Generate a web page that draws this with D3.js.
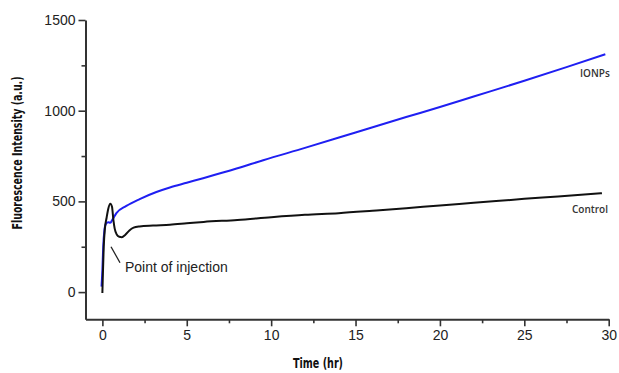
<!DOCTYPE html>
<html>
<head>
<meta charset="utf-8">
<script src="https://cdn.jsdelivr.net/npm/d3@7"></script>
<style>
  body { margin: 0; background: #fff; }
  svg { display: block; }
</style>
</head>
<body>
<div class="container"></div>
<script>
// readings
const ionpsTime = [-0.05, 0.0, 0.05, 0.12, 0.2, 0.35, 0.47, 0.6, 0.83, 1.42, 2.21, 3.2, 4.0, 5.0, 5.97, 7.95, 9.53, 12, 15, 18, 20, 22, 25, 27.5, 29.8]
const ionpsValue = [30, 120, 250, 340, 375, 385, 382, 400, 435, 475, 513, 552, 577, 603, 628, 681, 727, 795, 880, 965, 1020, 1078, 1165, 1240, 1311]

const controlTime = [0.0, 0.03, 0.08, 0.15, 0.25, 0.35, 0.47, 0.57, 0.65, 0.73, 0.85, 1.0, 1.15, 1.35, 1.6, 1.85, 2.2, 3, 4, 5, 6, 8, 10, 12, 14, 16, 18, 20, 22, 25, 27, 29.6]
const controlValue = [-5, 100, 250, 350, 410, 460, 487, 470, 400, 350, 318, 305, 303, 315, 340, 355, 362, 367, 371, 379, 387, 398, 413, 426, 435, 448, 462, 478, 492, 514, 527, 545]

const xTicks = [0, 5, 10, 15, 20, 25, 30]
const xMinor = [2.5, 7.5, 12.5, 17.5, 22.5, 27.5]
const yTicks = [0, 500, 1000, 1500]
const yMinor = [250, 750, 1250]

const width = 619, height = 373

const svg = d3.select(".container")
              .append("svg")
              .attr("width", width)
              .attr("height", height)

const x = d3.scaleLinear().domain([-1, 30]).range([85.5, 608.7])
const y = d3.scaleLinear().domain([-150, 1500]).range([319.3, 20])

const axisColor = "#333"
const tickFont = "'Liberation Sans', Arial, sans-serif"

// minor ticks first, so the major axis draws over them
svg.append("g")
   .attr("transform", "translate(0,319.3)")
   .call(d3.axisBottom(x).tickValues(xMinor).tickSize(4).tickFormat(""))
   .call(g => g.select(".domain").remove())
svg.append("g")
   .attr("transform", "translate(85.5,0)")
   .call(d3.axisLeft(y).tickValues(yMinor).tickSize(4).tickFormat(""))
   .call(g => g.select(".domain").remove())

svg.append("g")
   .attr("transform", "translate(0,319.3)")
   .call(d3.axisBottom(x).tickValues(xTicks).tickFormat(d3.format("d")).tickSize(7).tickSizeOuter(0).tickPadding(4))
svg.append("g")
   .attr("transform", "translate(85.5,0)")
   .call(d3.axisLeft(y).tickValues(yTicks).tickFormat(d3.format("d")).tickSize(7).tickSizeOuter(0).tickPadding(3))

svg.selectAll(".tick line").attr("stroke", axisColor).attr("stroke-width", 1.6)
svg.selectAll(".domain").attr("stroke", axisColor).attr("stroke-width", 2)
svg.selectAll(".tick text")
   .attr("fill", "#222")
   .style("font-family", tickFont)
   .style("font-size", "14px")

// lines
const line = d3.line()
               .x(d => x(d[0]))
               .y(d => y(d[1]))
               .curve(d3.curveMonotoneX)

svg.append("path")
   .datum(ionpsTime.map((t, i) => [t, ionpsValue[i]]))
   .attr("fill", "none")
   .attr("stroke", "#1f1ff2")
   .attr("stroke-width", 2)
   .attr("d", line)

svg.append("path")
   .datum(controlTime.map((t, i) => [t, controlValue[i]]))
   .attr("fill", "none")
   .attr("stroke", "#111")
   .attr("stroke-width", 2)
   .attr("d", line)

// series labels
svg.append("text")
   .text("IONPs")
   .attr("x", 580).attr("y", 77)
   .style("font-family", "'Open Sans', sans-serif")
   .style("font-weight", 600)
   .style("font-size", "10px")
   .attr("fill", "#333")

svg.append("text")
   .text("Control")
   .attr("x", 572).attr("y", 213)
   .style("font-family", "'Open Sans', sans-serif")
   .style("font-weight", 600)
   .style("font-size", "10px")
   .attr("fill", "#333")

// annotation
svg.append("line")
   .attr("x1", 111).attr("y1", 246.7)
   .attr("x2", 120).attr("y2", 262.7)
   .attr("stroke", "#222")
   .attr("stroke-width", 1.3)

svg.append("text")
   .text("Point of injection")
   .attr("x", 125).attr("y", 272)
   .style("font-family", tickFont)
   .style("font-size", "14px")
   .attr("fill", "#222")

// axis titles
svg.append("text")
   .text("Time (hr)")
   .attr("x", 318).attr("y", 368)
   .attr("text-anchor", "middle")
   .attr("textLength", 50)
   .attr("lengthAdjust", "spacingAndGlyphs")
   .style("font-family", "'Liberation Sans Narrow', 'DejaVu Sans Condensed', sans-serif")
   .style("font-weight", "bold")
   .style("font-size", "14px")
   .attr("fill", "#111")

svg.append("text")
   .text("Fluorescence Intensity (a.u.)")
   .attr("transform", "translate(22,153) rotate(-90)")
   .attr("text-anchor", "middle")
   .attr("textLength", 153)
   .attr("lengthAdjust", "spacingAndGlyphs")
   .style("font-family", "'Liberation Sans Narrow', 'DejaVu Sans Condensed', sans-serif")
   .style("font-weight", "bold")
   .style("font-size", "14px")
   .attr("fill", "#111")
</script>
</body>
</html>
